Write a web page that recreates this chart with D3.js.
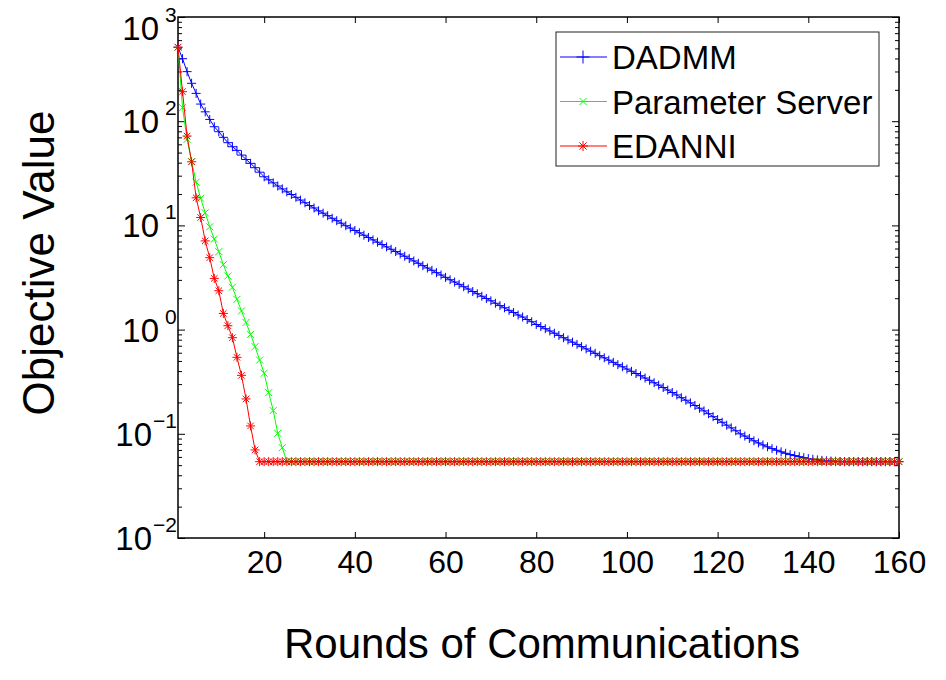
<!DOCTYPE html>
<html>
<head>
<meta charset="utf-8">
<script src="https://d3js.org/d3.v7.min.js"></script>
<style>
body { margin: 0; background: #fff; }
text { font-family: "Liberation Sans", Arial, Helvetica, sans-serif; fill: #000; }
</style>
</head>
<body>
<svg id="chart" width="946" height="680"></svg>
<script>
const rounds = d3.range(1, 161)
const xTicks = [20, 40, 60, 80, 100, 120, 140, 160]
const yExponents = [3, 2, 1, 0, -1, -2]
const seriesNames = ["DADMM", "Parameter Server", "EDANNI"]

const dadmm = [
  513, 398, 299, 231, 185, 146, 123, 104, 88.5, 79.3,
  70.0, 62.2, 56.9, 52.5, 47.3, 42.9, 39.4, 35.8, 32.4, 29.3,
  27.4, 25.6, 23.9, 22.4, 21.0, 19.8, 18.6, 17.5, 16.5, 15.5,
  14.7, 13.8, 13.1, 12.4, 11.7, 11.1, 10.5, 9.93, 9.42, 8.93,
  8.49, 8.05, 7.66, 7.26, 6.90, 6.55, 6.22, 5.90, 5.61, 5.32,
  5.06, 4.80, 4.56, 4.33, 4.11, 3.90, 3.71, 3.52, 3.34, 3.17,
  3.01, 2.86, 2.72, 2.58, 2.45, 2.32, 2.21, 2.09, 1.99, 1.89,
  1.79, 1.70, 1.62, 1.53, 1.46, 1.38, 1.32, 1.25, 1.19, 1.12,
  1.07, 1.02, 0.970, 0.923, 0.879, 0.836, 0.796, 0.757, 0.721, 0.686,
  0.653, 0.621, 0.592, 0.562, 0.536, 0.509, 0.485, 0.461, 0.440, 0.418,
  0.398, 0.379, 0.361, 0.343, 0.326, 0.309, 0.293, 0.278, 0.263, 0.249,
  0.236, 0.222, 0.210, 0.198, 0.187, 0.176, 0.166, 0.156, 0.146, 0.137,
  0.129, 0.121, 0.114, 0.107, 0.100, 0.0951, 0.0902, 0.0857, 0.0817, 0.0782,
  0.0750, 0.0721, 0.0695, 0.0671, 0.0650, 0.0632, 0.0617, 0.0603, 0.0590, 0.0579,
  0.0570, 0.0562, 0.0556, 0.0551, 0.0547, 0.0545, 0.0542, 0.054, 0.054, 0.054,
  0.054, 0.054, 0.054, 0.054, 0.054, 0.054, 0.054, 0.054, 0.054, 0.054
]
const paramServer = [
  513, 135, 67, 41, 26, 18.2, 13.2, 9.7, 7.4, 5.6,
  4.2, 3.27, 2.55, 1.95, 1.51, 1.17, 0.90, 0.686, 0.51, 0.381,
  0.248, 0.167, 0.101, 0.0736, 0.054, 0.054, 0.054, 0.054, 0.054, 0.054,
  0.054, 0.054, 0.054, 0.054, 0.054, 0.054, 0.054, 0.054, 0.054, 0.054,
  0.054, 0.054, 0.054, 0.054, 0.054, 0.054, 0.054, 0.054, 0.054, 0.054,
  0.054, 0.054, 0.054, 0.054, 0.054, 0.054, 0.054, 0.054, 0.054, 0.054,
  0.054, 0.054, 0.054, 0.054, 0.054, 0.054, 0.054, 0.054, 0.054, 0.054,
  0.054, 0.054, 0.054, 0.054, 0.054, 0.054, 0.054, 0.054, 0.054, 0.054,
  0.054, 0.054, 0.054, 0.054, 0.054, 0.054, 0.054, 0.054, 0.054, 0.054,
  0.054, 0.054, 0.054, 0.054, 0.054, 0.054, 0.054, 0.054, 0.054, 0.054,
  0.054, 0.054, 0.054, 0.054, 0.054, 0.054, 0.054, 0.054, 0.054, 0.054,
  0.054, 0.054, 0.054, 0.054, 0.054, 0.054, 0.054, 0.054, 0.054, 0.054,
  0.054, 0.054, 0.054, 0.054, 0.054, 0.054, 0.054, 0.054, 0.054, 0.054,
  0.054, 0.054, 0.054, 0.054, 0.054, 0.054, 0.054, 0.054, 0.054, 0.054,
  0.054, 0.054, 0.054, 0.054, 0.054, 0.054, 0.054, 0.054, 0.054, 0.054,
  0.054, 0.054, 0.054, 0.054, 0.054, 0.054, 0.054, 0.054, 0.054, 0.054
]
const edanni = [
  513, 192, 72, 40.8, 18.4, 11.9, 7.1, 4.9, 3.1, 2.36,
  1.43, 1.09, 0.836, 0.542, 0.364, 0.216, 0.119, 0.070, 0.054, 0.054,
  0.054, 0.054, 0.054, 0.054, 0.054, 0.054, 0.054, 0.054, 0.054, 0.054,
  0.054, 0.054, 0.054, 0.054, 0.054, 0.054, 0.054, 0.054, 0.054, 0.054,
  0.054, 0.054, 0.054, 0.054, 0.054, 0.054, 0.054, 0.054, 0.054, 0.054,
  0.054, 0.054, 0.054, 0.054, 0.054, 0.054, 0.054, 0.054, 0.054, 0.054,
  0.054, 0.054, 0.054, 0.054, 0.054, 0.054, 0.054, 0.054, 0.054, 0.054,
  0.054, 0.054, 0.054, 0.054, 0.054, 0.054, 0.054, 0.054, 0.054, 0.054,
  0.054, 0.054, 0.054, 0.054, 0.054, 0.054, 0.054, 0.054, 0.054, 0.054,
  0.054, 0.054, 0.054, 0.054, 0.054, 0.054, 0.054, 0.054, 0.054, 0.054,
  0.054, 0.054, 0.054, 0.054, 0.054, 0.054, 0.054, 0.054, 0.054, 0.054,
  0.054, 0.054, 0.054, 0.054, 0.054, 0.054, 0.054, 0.054, 0.054, 0.054,
  0.054, 0.054, 0.054, 0.054, 0.054, 0.054, 0.054, 0.054, 0.054, 0.054,
  0.054, 0.054, 0.054, 0.054, 0.054, 0.054, 0.054, 0.054, 0.054, 0.054,
  0.054, 0.054, 0.054, 0.054, 0.054, 0.054, 0.054, 0.054, 0.054, 0.054,
  0.054, 0.054, 0.054, 0.054, 0.054, 0.054, 0.054, 0.054, 0.054, 0.054
]

const xLeft = 178, xRight = 899, yTop = 17, yBottom = 538
const svg = d3.select("#chart")

const x = d3.scaleLinear().domain([1, 160]).range([xLeft, xRight])
const y = d3.scaleLog().domain([0.01, 1000]).range([yBottom, yTop])

// marker shapes, matlab style
const plus = s => `M${-s},0H${s}M0,${-s}V${s}`
const cross = s => `M${-s},${-s}L${s},${s}M${-s},${s}L${s},${-s}`
const star = s => plus(s) + cross(s * 0.72)

const series = [
  { name: seriesNames[0], values: dadmm, color: "#0000ff", marker: plus(4.5), legendMarker: plus(6.5) },
  { name: seriesNames[1], values: paramServer, color: "#00ff00", marker: cross(3.5), legendMarker: cross(3.5) },
  { name: seriesNames[2], values: edanni, color: "#ff0000", marker: star(4.5), legendMarker: star(5) }
]

// minor ticks for the log axis
var minors = []
for (let e = -2; e < 3; e++) for (let k = 2; k < 10; k++) minors.push(k * Math.pow(10, e))
const majors = yExponents.map(e => Math.pow(10, e))

// ticks pointing inward on all 4 sides
svg.append("g").attr("transform", `translate(0,${yBottom})`)
  .call(d3.axisBottom(x).tickValues(xTicks).tickSize(-6).tickPadding(12).tickFormat(d3.format("d")))
  .call(g => g.select(".domain").remove())
  .call(g => g.selectAll("text").attr("font-size", "32px").attr("dy", "0.71em"))
svg.append("g").attr("transform", `translate(0,${yTop})`)
  .call(d3.axisTop(x).tickValues(xTicks).tickSize(-6).tickFormat(""))
  .call(g => g.select(".domain").remove())

svg.append("g").attr("transform", `translate(${xLeft},0)`)
  .call(d3.axisLeft(y).tickValues(majors).tickSize(-7).tickFormat(""))
  .call(g => g.select(".domain").remove())
svg.append("g").attr("transform", `translate(${xLeft},0)`)
  .call(d3.axisLeft(y).tickValues(minors).tickSize(-4).tickFormat(""))
  .call(g => g.select(".domain").remove())
svg.append("g").attr("transform", `translate(${xRight},0)`)
  .call(d3.axisRight(y).tickValues(majors).tickSize(-7).tickFormat(""))
  .call(g => g.select(".domain").remove())
svg.append("g").attr("transform", `translate(${xRight},0)`)
  .call(d3.axisRight(y).tickValues(minors).tickSize(-4).tickFormat(""))
  .call(g => g.select(".domain").remove())

svg.selectAll(".tick line").attr("stroke", "#000").attr("stroke-width", 1)
svg.selectAll("g").attr("font-family", null)

// y labels 10^n
const ylab = svg.selectAll("g.ylab")
  .data(yExponents).enter()
  .append("g")
  .attr("class", "ylab")
  .attr("transform", (e, i) => `translate(0,${y(Math.pow(10, e)) + (i == 0 ? 12 : 1)})`)
ylab.append("text")
  .attr("x", e => e < 0 ? 152 : 159).attr("y", 11)
  .attr("text-anchor", "end")
  .attr("font-size", "33px")
  .text("10")
ylab.append("text")
  .attr("x", e => e < 0 ? 153 : 165).attr("y", -7)
  .attr("font-size", "21px")
  .text(e => e < 0 ? "\u2212" + Math.abs(e) : e)

// frame
svg.append("rect")
  .attr("x", xLeft).attr("y", yTop)
  .attr("width", xRight - xLeft).attr("height", yBottom - yTop)
  .attr("fill", "none").attr("stroke", "#000").attr("stroke-width", 1.5)

const line = d3.line().x((d, i) => x(rounds[i])).y(d => y(d))

series.forEach(s => {
  const g = svg.append("g")
  g.append("path")
    .attr("d", line(s.values))
    .attr("fill", "none")
    .attr("stroke", s.color)
    .attr("stroke-width", 1)
  g.selectAll("path.mk")
    .data(s.values).enter()
    .append("path")
    .attr("class", "mk")
    .attr("transform", (d, i) => `translate(${x(rounds[i])},${y(d)})`)
    .attr("d", s.marker)
    .attr("fill", "none")
    .attr("stroke", s.color)
    .attr("stroke-width", 1)
})

// legend
svg.append("rect")
  .attr("x", 556).attr("y", 32)
  .attr("width", 323).attr("height", 134)
  .attr("fill", "#fff").attr("stroke", "#222").attr("stroke-width", 1)

const leg = svg.selectAll("g.leg")
  .data(series).enter()
  .append("g")
  .attr("class", "leg")
  .attr("transform", (d, i) => `translate(0,${57 + i * 44.5})`)
leg.append("line")
  .attr("x1", 560).attr("x2", 607)
  .attr("stroke", d => d.color).attr("stroke-width", 1)
leg.append("path")
  .attr("transform", "translate(583,0)")
  .attr("d", d => d.legendMarker)
  .attr("fill", "none").attr("stroke", d => d.color).attr("stroke-width", 1)
leg.append("text")
  .attr("x", 612).attr("y", 12)
  .attr("font-size", "33px")
  .text(d => d.name)

// axis titles
svg.append("text")
  .attr("x", 542).attr("y", 658)
  .attr("text-anchor", "middle")
  .attr("font-size", "42px")
  .text("Rounds of Communications")

svg.append("text")
  .attr("transform", "translate(54,263) rotate(-90)")
  .attr("text-anchor", "middle")
  .attr("font-size", "44px")
  .text("Objective Value")
</script>
</body>
</html>
